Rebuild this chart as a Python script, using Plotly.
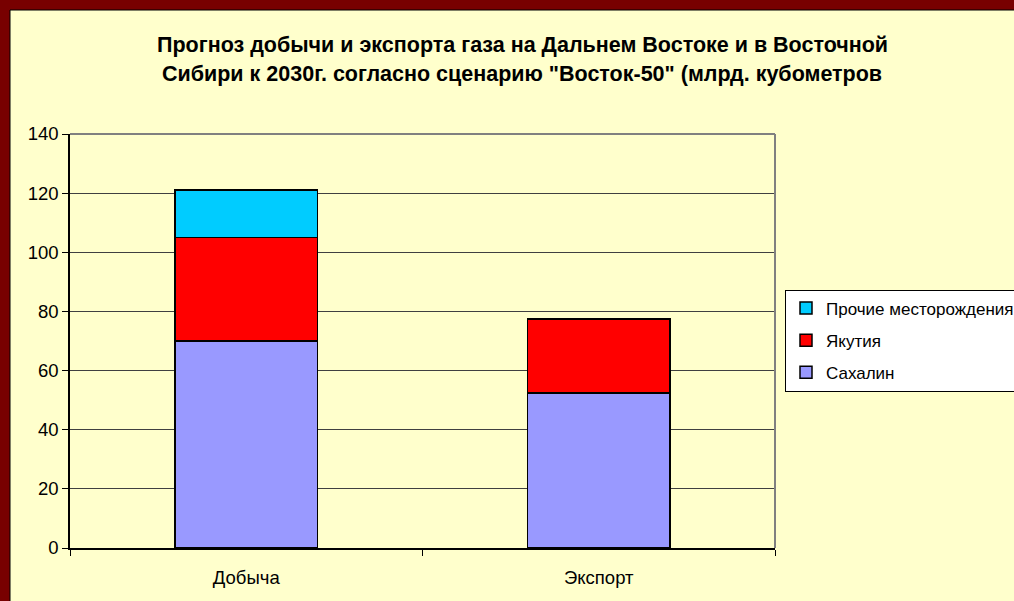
import plotly.graph_objects as go

categories = ["Добыча", "Экспорт"]
sakhalin = [70, 52.5]
yakutia = [35, 25]
prochie = [16, 0]
series_names = ["Сахалин", "Якутия", "Прочие месторождения"]
title_lines = ["Прогноз добычи и экспорта газа на Дальнем Востоке и в Восточной",
               "Сибири к 2030г. согласно сценарию \"Восток-50\" (млрд. кубометров"]
y_ticks = [0, 20, 40, 60, 80, 100, 120, 140]

colors = ["#9999FF", "#FF0000", "#00CCFF"]
ranks = [3, 2, 1]
FONT = "Liberation Sans, Arial, sans-serif"
FS = 18.5

fig = go.Figure()
for i, (name, vals) in enumerate(zip(series_names, [sakhalin, yakutia, prochie])):
    fig.add_trace(go.Bar(
        x=categories, y=vals, name=name, legendgroup=name, legendrank=ranks[i],
        marker=dict(color=colors[i], line=dict(color="black", width=1.5)),
    ))

W, H = 1014, 601
L, R, T, B = 70, 239, 134, 53
pw, ph = W - L - R, H - T - B

def px_x(p):
    return (p - L) / pw

def px_y(p):
    return (H - B - p) / ph

shapes = [
    dict(type="rect", xref="paper", yref="paper", x0=px_x(10), x1=px_x(1100),
         y0=px_y(700), y1=px_y(10), fillcolor="#FFFFCC",
         line=dict(color="black", width=1), layer="below"),
    dict(type="line", xref="paper", yref="paper", x0=0, x1=1, y0=1, y1=1,
         line=dict(color="#808080", width=2)),
    dict(type="line", xref="paper", yref="paper", x0=1, x1=1, y0=0, y1=1,
         line=dict(color="#808080", width=2)),
]

annotations = [
    dict(text="<b>%s</b>" % title_lines[0], xref="paper", yref="paper",
         x=px_x(522), y=px_y(45), xanchor="center", yanchor="middle",
         showarrow=False, font=dict(family=FONT, size=21.5, color="black")),
    dict(text="<b>%s</b>" % title_lines[1], xref="paper", yref="paper",
         x=px_x(522), y=px_y(74), xanchor="center", yanchor="middle",
         showarrow=False, font=dict(family=FONT, size=21.5, color="black")),
]

fig.update_layout(
    width=W, height=H,
    margin=dict(l=L, r=R, t=T, b=B, autoexpand=False),
    paper_bgcolor="#780000",
    plot_bgcolor="#CCFFFF",
    barmode="stack",
    bargap=0.595,
    shapes=shapes,
    annotations=annotations,
    showlegend=True,
    legend=dict(
        x=px_x(785), y=px_y(340.5), xanchor="left", yanchor="middle",
        bgcolor="white", bordercolor="black", borderwidth=1,
        font=dict(family=FONT, size=17, color="black"),
        traceorder="grouped", tracegroupgap=7, itemwidth=30,
    ),
    xaxis=dict(
        showgrid=False, showline=True, linecolor="black", linewidth=1.5,
        ticks="outside", ticklen=6, tickcolor="black", tickson="boundaries",
        tickfont=dict(family=FONT, size=FS, color="black"),
        ticklabelstandoff=12,
    ),
    yaxis=dict(
        range=[0, 140], tickvals=y_ticks, showgrid=True, gridcolor="#404040",
        gridwidth=1, showline=True, linecolor="black", linewidth=1.5,
        ticks="outside", ticklen=6, tickcolor="black",
        tickfont=dict(family=FONT, size=FS, color="black"),
        zeroline=False,
    ),
)

fig.write_html(
    "out.html",
    config={"displayModeBar": False},
    post_script="document.body.style.margin='0';document.body.style.background='#780000';",
)
